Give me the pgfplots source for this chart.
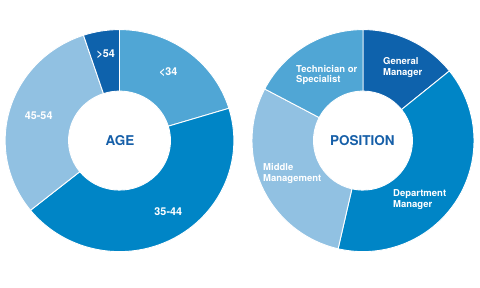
\documentclass[border=0pt]{standalone}
\usepackage{pgfplots}
\pgfplotsset{compat=1.18}
\usepackage{fontspec}
\setmainfont{TeX Gyre Heros}
\definecolor{cA}{RGB}{80,166,213}
\definecolor{cB}{RGB}{0,133,198}
\definecolor{cC}{RGB}{145,193,226}
\definecolor{cD}{RGB}{14,98,172}
\definecolor{ctxt}{RGB}{22,95,168}
% donut: #1 = x scale, #2 = list value/color (percent, clockwise from 12 o'clock)
\newcommand{\donut}[2]{%
  \pgfplotsextra{%
    \begin{scope}[shift={(axis cs:0,0)}, xscale=#1]
      \foreach \v/\c [remember=\e as \s (initially 0)] in {#2} {
        \pgfmathsetmacro\e{\s+\v}
        \pgfmathsetmacro\a{90-3.6*\s}
        \pgfmathsetmacro\b{90-3.6*\e}
        \fill[\c, draw=white, line width=0.9bp]
          (\a:111bp) arc[start angle=\a, end angle=\b, radius=111bp]
          -- (\b:49.5bp) arc[start angle=\b, end angle=\a, radius=49.5bp] -- cycle;
      }
    \end{scope}}}
\begin{document}
\begin{tikzpicture}
\begin{axis}[hide axis, x=1bp, y=1bp, xmin=-119.5, xmax=120.5, ymin=-147.4, ymax=140.6,
  at={(0,0)}, anchor=south west, clip=false]
  \donut{1.03}{20.3/cA, 43.9/cB, 30.7/cC, 5.1/cD}
  \begin{scope}[font=\fontsize{10.8bp}{12bp}\selectfont\bfseries, text=white]
  \node at (axis cs:48.8,68.9) {<34};
  \node at (axis cs:-13.8,86.3) {>54};
  \node at (axis cs:-80.8,24.9) {45-54};
  \node at (axis cs:48.8,-71.1) {35-44};
  \end{scope}
  \node[font=\fontsize{13.5bp}{15bp}\selectfont\bfseries, text=ctxt] at (axis cs:0.5,0) {AGE};
\end{axis}
\begin{axis}[hide axis, x=1bp, y=1bp, xmin=-123, xmax=117, ymin=-147.4, ymax=140.6,
  at={(240bp,0)}, anchor=south west, clip=false]
  \donut{1}{14.2/cD, 39.4/cB, 29.1/cC, 17.3/cA}
  \begin{scope}[font=\fontsize{9.5bp}{10.8bp}\selectfont\bfseries, text=white, align=left, anchor=west, inner sep=0pt]
  \node at (axis cs:20,73) {General\\Manager};
  \node at (axis cs:-67,65.6) {Technician or\\Specialist};
  \node at (axis cs:-100,-32.9) {Middle\\Management};
  \node at (axis cs:30,-58.9) {Department\\Manager};
  \end{scope}
  \node[font=\fontsize{13.5bp}{15bp}\selectfont\bfseries, text=ctxt] at (axis cs:-0.7,0) {POSITION};
\end{axis}
\pgfresetboundingbox
\useasboundingbox (0,0) rectangle (480bp,288bp);
\end{tikzpicture}
\end{document}
